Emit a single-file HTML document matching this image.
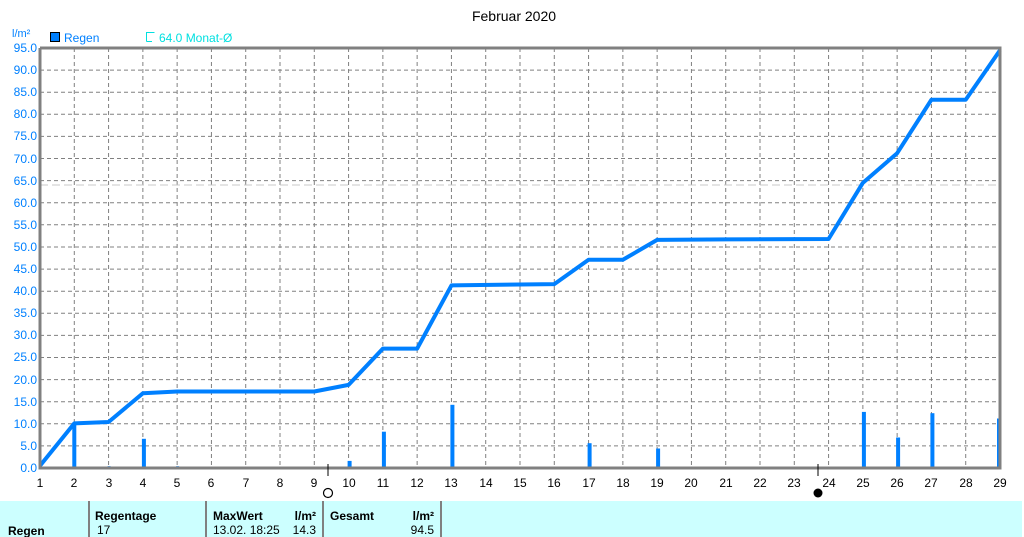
<!DOCTYPE html>
<html><head><meta charset="utf-8"><style>
body{margin:0;background:#fff;width:1024px;height:537px;overflow:hidden}
svg{display:block;font-family:"Liberation Sans",sans-serif}
</style></head><body>
<svg width="1024" height="537" viewBox="0 0 1024 537" xmlns="http://www.w3.org/2000/svg">
<text x="514" y="21" font-size="14" text-anchor="middle" fill="#000">Februar 2020</text>
<text x="12" y="37" font-size="11" fill="#0080ff">l/m²</text>
<rect x="50.5" y="32.5" width="9" height="9" fill="#0080ff" stroke="#000"/>
<text x="64" y="42" font-size="12" fill="#0080ff">Regen</text>
<path d="M146.5 41.5V32.5H154.5M146.5 41.5H152" fill="none" stroke="#00e0e0"/>
<text x="159" y="42" font-size="12" fill="#00e0e0">64.0 Monat-Ø</text>
<path fill="none" stroke="#808080" stroke-dasharray="4,3" stroke-width="1" d="M74.29 48V468M108.57 48V468M142.86 48V468M177.14 48V468M211.43 48V468M245.71 48V468M280 48V468M314.29 48V468M348.57 48V468M382.86 48V468M417.14 48V468M451.43 48V468M485.71 48V468M520 48V468M554.29 48V468M588.57 48V468M622.86 48V468M657.14 48V468M691.43 48V468M725.71 48V468M760 48V468M794.29 48V468M828.57 48V468M862.86 48V468M897.14 48V468M931.43 48V468M965.71 48V468
M40 445.9H1000M40 423.8H1000M40 401.7H1000M40 379.6H1000M40 357.5H1000M40 335.4H1000M40 313.3H1000M40 291.2H1000M40 269.1H1000M40 247H1000M40 224.8H1000M40 202.7H1000M40 180.6H1000M40 158.5H1000M40 136.4H1000M40 114.3H1000M40 92.2H1000M40 70.1H1000"/>
<line x1="40" y1="185" x2="1000" y2="185" stroke="#c8c8c8" stroke-dasharray="8,4"/>
<g fill="#0080ff">
<rect x="72.3" y="423.8" width="4" height="44.2"/>
<rect x="107.6" y="466.2" width="3" height="1.8"/>
<rect x="141.9" y="438.8" width="4" height="29.2"/>
<rect x="176.1" y="466.2" width="3" height="1.8"/>
<rect x="347.6" y="460.9" width="4" height="7.1"/>
<rect x="381.9" y="431.7" width="4" height="36.3"/>
<rect x="416.1" y="466.7" width="3" height="1.3"/>
<rect x="450.4" y="404.8" width="4" height="63.2"/>
<rect x="587.6" y="443.2" width="4" height="24.8"/>
<rect x="656.1" y="448.5" width="4" height="19.5"/>
<rect x="861.9" y="411.9" width="4" height="56.1"/>
<rect x="896.1" y="437.5" width="4" height="30.5"/>
<rect x="930.4" y="413.2" width="4" height="54.8"/>
<rect x="997" y="418.5" width="3" height="49.5"/>
</g>
<polyline id="cum" fill="none" stroke="#0080ff" stroke-width="4" stroke-linejoin="round"/>
<path d="M40 48V468H1000V48H40" fill="none" stroke="#808080" stroke-width="3"/>
<g font-size="12" fill="#0080ff" text-anchor="end">
<text x="37" y="52">95.0</text><text x="37" y="74">90.0</text><text x="37" y="96">85.0</text><text x="37" y="118">80.0</text><text x="37" y="140">75.0</text><text x="37" y="163">70.0</text><text x="37" y="185">65.0</text><text x="37" y="207">60.0</text><text x="37" y="229">55.0</text><text x="37" y="251">50.0</text><text x="37" y="273">45.0</text><text x="37" y="295">40.0</text><text x="37" y="317">35.0</text><text x="37" y="339">30.0</text><text x="37" y="361">25.0</text><text x="37" y="384">20.0</text><text x="37" y="406">15.0</text><text x="37" y="428">10.0</text><text x="37" y="450">5.0</text><text x="37" y="472">0.0</text>
</g>
<g font-size="12" fill="#000" text-anchor="middle">
<text x="40" y="487">1</text><text x="74" y="487">2</text><text x="109" y="487">3</text><text x="143" y="487">4</text><text x="177" y="487">5</text><text x="211" y="487">6</text><text x="246" y="487">7</text><text x="280" y="487">8</text><text x="314" y="487">9</text><text x="349" y="487">10</text><text x="383" y="487">11</text><text x="417" y="487">12</text><text x="451" y="487">13</text><text x="486" y="487">14</text><text x="520" y="487">15</text><text x="554" y="487">16</text><text x="589" y="487">17</text><text x="623" y="487">18</text><text x="657" y="487">19</text><text x="691" y="487">20</text><text x="726" y="487">21</text><text x="760" y="487">22</text><text x="794" y="487">23</text><text x="829" y="487">24</text><text x="863" y="487">25</text><text x="897" y="487">26</text><text x="931" y="487">27</text><text x="966" y="487">28</text><text x="1000" y="487">29</text>
</g>
<line x1="328" y1="464" x2="328" y2="476" stroke="#000"/>
<line x1="818" y1="464" x2="818" y2="476" stroke="#000"/>
<circle cx="328" cy="493" r="4.5" fill="#fff" stroke="#000" stroke-width="1.2"/>
<circle cx="818" cy="493" r="4.5" fill="#000"/>
<rect x="0" y="501" width="1022" height="36" fill="#ccffff"/>
<g stroke="#808080" stroke-width="2"><line x1="89" y1="501" x2="89" y2="537"/><line x1="206" y1="501" x2="206" y2="537"/><line x1="323" y1="501" x2="323" y2="537"/><line x1="441" y1="501" x2="441" y2="537"/></g>
<g font-size="12" fill="#000">
<text x="95" y="520" font-weight="bold">Regentage</text>
<text x="213" y="520" font-weight="bold">MaxWert</text>
<text x="316" y="520" font-weight="bold" text-anchor="end">l/m²</text>
<text x="330" y="520" font-weight="bold">Gesamt</text>
<text x="434" y="520" font-weight="bold" text-anchor="end">l/m²</text>
<text x="8" y="535" font-weight="bold">Regen</text>
<text x="97" y="534">17</text>
<text x="213" y="534">13.02.  18:25</text>
<text x="316" y="534" text-anchor="end">14.3</text>
<text x="434" y="534" text-anchor="end">94.5</text>
</g>
<script>
var X=function(d){return 40+960/28*(d-1)},Y=function(v){return 468-420/95*v};
var pts=[[1,0.5],[2,10.1],[3,10.4],[4,16.9],[5,17.3],[9,17.3],[10,18.8],[11,27],[12,27],[13,41.3],[16,41.6],[17,47.1],[18,47.1],[19,51.6],[21,51.7],[24,51.8],[25,64.5],[26,71.2],[27,83.3],[28,83.3],[29,94.5]];
document.getElementById('cum').setAttribute('points',pts.map(function(p){return X(p[0])+','+Y(p[1])}).join(' '));
</script>
</svg>
</body></html>
